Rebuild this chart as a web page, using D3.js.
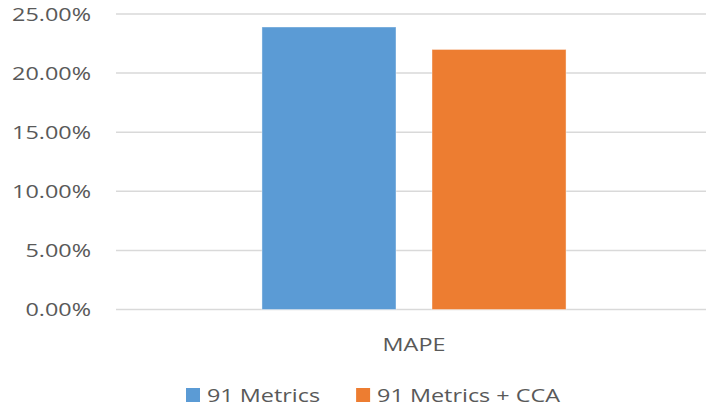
<!DOCTYPE html>
<html>
<head>
<meta charset="utf-8">
<script src="https://cdn.jsdelivr.net/npm/d3@7"></script>
<style>
  body { margin: 0; background: #fff; }
  text { font-family: "Open Sans", sans-serif; fill: #595959; }
</style>
</head>
<body>
<script>
const categories = ["MAPE"]
const seriesNames = ["91 Metrics", "91 Metrics + CCA"]
const seriesValues = [0.239, 0.220]
const seriesColors = ["#5B9BD5", "#ED7D31"]
const yTicks = [0, 0.05, 0.10, 0.15, 0.20, 0.25]

const W = 706, H = 410
const stretch = 1.3   // the reference text is drawn wide

const svg = d3.select("body").append("svg")
    .attr("width", W)
    .attr("height", H)

const y = d3.scaleLinear().domain([0, 0.25]).range([309.5, 14])
const x0 = d3.scaleBand().domain(categories).range([116, 712]).paddingInner(0).paddingOuter(0.48)
const x1 = d3.scaleBand().domain(seriesNames).range([0, x0.bandwidth()]).paddingInner(0.2118)

const fmt = d3.format(".2%")

// wide text helper
function wideText(parent, x, y, str, anchor, size) {
    const g = parent.append("g").attr("transform", `translate(${x},${y}) scale(${stretch},1)`)
    g.append("text")
        .attr("text-anchor", anchor)
        .attr("font-size", size)
        .text(str)
    return g
}

// gridlines
svg.append("g")
    .selectAll("line")
    .data(yTicks)
    .enter()
    .append("line")
    .attr("x1", 116)
    .attr("x2", W)
    .attr("y1", d => y(d))
    .attr("y2", d => y(d))
    .style("stroke", "#D9D9D9")
    .style("stroke-width", 1.5)

// y labels
const yl = svg.append("g")
yTicks.forEach(t => {
    wideText(yl, 91, y(t) + 6.5, fmt(t), "end", "18px")
})

// bars
categories.forEach((c, ci) => {
    svg.append("g")
        .selectAll("rect")
        .data(seriesNames)
        .enter()
        .append("rect")
        .attr("x", d => x0(c) + x1(d))
        .attr("width", x1.bandwidth())
        .attr("y", (d, i) => y(seriesValues[i]))
        .attr("height", (d, i) => y(0) - y(seriesValues[i]))
        .attr("fill", (d, i) => seriesColors[i])
        .style("stroke", "#fff")
        .style("stroke-opacity", 0.4)
        .style("stroke-width", 1)

    wideText(svg, x0(c) + x0.bandwidth() / 2, 351, c, "middle", "18px")
})

// legend
const legend = svg.append("g")
let lx = 186
seriesNames.forEach((name, i) => {
    legend.append("rect")
        .attr("x", lx)
        .attr("y", 388)
        .attr("width", 14)
        .attr("height", 14)
        .attr("fill", seriesColors[i])
    const g = wideText(legend, lx + 21, 402, name, "start", "18px")
    const w = g.select("text").node().getComputedTextLength() * stretch
    lx = lx + 21 + w + 36
})
</script>
</body>
</html>
